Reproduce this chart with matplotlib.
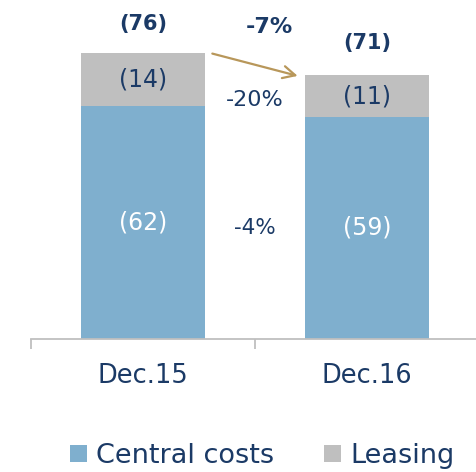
import numpy as np
import matplotlib.pyplot as plt

plt.rcParams['font.family'] = ['DejaVu Sans']

periods = ['Dec.15', 'Dec.16']
central = [62, 59]
leasing = [14, 11]
totals = [76, 71]
chg_total = '-7%'
chg_leasing = '-20%'
chg_central = '-4%'

blue = '#7FAFCE'
grey = '#BFBFBF'
navy = '#1B3A66'
gold = '#B8975A'

fig = plt.figure(figsize=(4.77, 4.72), dpi=100)
ax = fig.add_axes([31/477, 1-339/472, 448/477, 320/472])

x = np.arange(len(periods))
w = 0.555
ax.bar(x, central, width=w, color=blue, label='Central costs')
ax.bar(x, leasing, width=w, bottom=central, color=grey, label='Leasing')

ax.set_xlim(-0.5, 1.5)
ax.set_ylim(0, 85)

for i in range(len(x)):
    ax.text(x[i], central[i]/2, '(%d)' % central[i], ha='center', va='center',
            color='white', fontsize=17)
    ax.text(x[i], central[i] + leasing[i]/2, '(%d)' % leasing[i], ha='center',
            va='center', color=navy, fontsize=17)
    ax.text(x[i], totals[i] + 7.6, '(%d)' % totals[i], ha='center', va='center',
            color=navy, fontsize=15, fontweight='bold')

ax.text(0.5, 29.5, chg_central, ha='center', va='center', color=navy, fontsize=15.5)
ax.text(0.5, 63.5, chg_leasing, ha='center', va='center', color=navy, fontsize=16)
ax.text(0.565, 83, chg_total, ha='center', va='center', color=navy, fontsize=16,
        fontweight='bold')
ax.annotate('', xy=(x[1] - w/2 - 0.02, totals[1] - 1.3),
            xytext=(x[0] + w/2 + 0.02, totals[0]),
            arrowprops=dict(arrowstyle='->', color=gold, lw=1.6,
                            mutation_scale=22))

for s in ['top', 'right', 'left']:
    ax.spines[s].set_visible(False)
ax.spines['bottom'].set_color(grey)
ax.spines['bottom'].set_linewidth(1.3)
ax.set_yticks([])
ax.set_xticks(x)
ax.set_xticklabels(periods, color=navy, fontsize=18.5)
ax.tick_params(axis='x', which='major', length=0, pad=17)
ax.set_xticks([-0.5, 0.5, 1.5], minor=True)
ax.tick_params(axis='x', which='minor', length=7, width=1.3, color=grey)

fig.legend(loc='lower center', bbox_to_anchor=(0.55, -0.045), ncol=2, frameon=False,
           fontsize=19.5, labelcolor=navy, handlelength=0.6, handleheight=0.6,
           handletextpad=0.35, columnspacing=1.85)

fig.savefig('out.png', dpi=100)
